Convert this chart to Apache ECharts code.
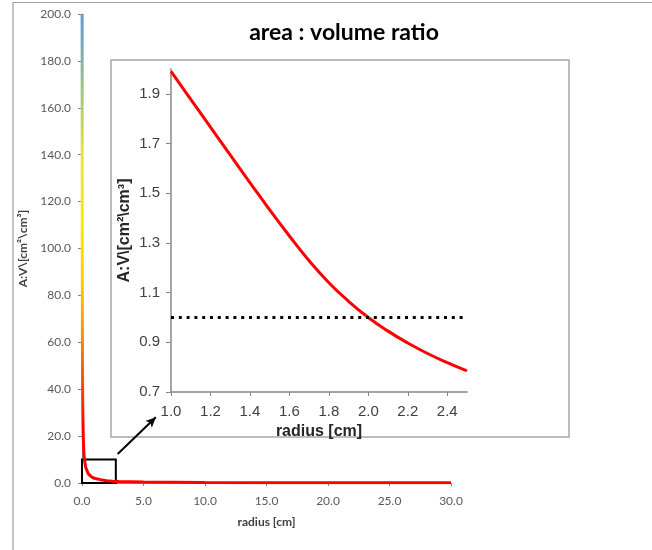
<!DOCTYPE html>
<html>
<head>
<meta charset="utf-8">
<script src="https://cdn.jsdelivr.net/npm/echarts@6/dist/echarts.min.js"></script>
<style>
  html, body { margin: 0; padding: 0; background: #fff; }
  #chart { width: 652px; height: 550px; }
</style>
</head>
<body>
<div id="chart"></div>
<script>
// main curve
const mainRadius = [0.01, 0.02, 0.04, 0.06, 0.1, 0.15, 0.2, 0.3, 0.5, 0.75, 1.0, 1.5, 2.0, 2.5, 3.0, 5.0, 10.0, 15.0, 20.0, 25.0, 30.0];
const mainRatio = [200, 100, 50, 33, 20, 13, 10, 6.7, 4.0, 2.7, 2.0, 1.43, 1.0, 0.79, 0.67, 0.4, 0.2, 0.13, 0.1, 0.08, 0.07];

// zoomed curve
const insetRadius = [1.0, 1.1, 1.2, 1.3, 1.4, 1.5, 1.6, 1.7, 1.8, 1.9, 2.0, 2.1, 2.2, 2.3, 2.4, 2.5];
const insetRatio = [1.99, 1.878, 1.766, 1.654, 1.543, 1.433, 1.328, 1.228, 1.14, 1.065, 1.0, 0.945, 0.897, 0.855, 0.818, 0.785];

const insetXTicks = [1.0, 1.2, 1.4, 1.6, 1.8, 2.0, 2.2, 2.4];
const insetYTicks = [0.7, 0.9, 1.1, 1.3, 1.5, 1.7, 1.9];
const thresholdRatio = 1.0;

// zoom box and arrow in main-axis data units
const zoomBox = [[0, 0], [2.75, 10]];
const arrowFrom = [2.9, 12.4];
const arrowTo = [6.0, 28.0];

const chart = echarts.init(document.getElementById('chart'));

const mainFont = { fontFamily: 'Lato', fontSize: 12, color: '#595959' };
const insetFont = { fontFamily: 'Liberation Sans', fontSize: 15, color: '#404040' };
const fmt1 = (v) => Number(v).toFixed(1);

const mainGradient = new echarts.graphic.LinearGradient(0, 1, 0, 0, [
  { offset: 0, color: '#ff0000' },
  { offset: 0.12, color: '#ff0000' },
  { offset: 0.22, color: '#ff5000' },
  { offset: 0.32, color: '#ff9000' },
  { offset: 0.42, color: '#ffc800' },
  { offset: 0.55, color: '#ffe800' },
  { offset: 0.7, color: '#e6e440' },
  { offset: 0.82, color: '#a8c878' },
  { offset: 0.92, color: '#78aab8' },
  { offset: 1, color: '#5b9bd5' },
]);

chart.setOption({
  animation: false,
  backgroundColor: '#fff',
  title: {
    text: 'area : volume ratio',
    left: 339,
    top: 16,
    textAlign: 'center',
    textStyle: { fontFamily: 'Lato', fontSize: 23, fontWeight: 'bold', color: '#000' },
  },
  graphic: [
    {
      type: 'polyline',
      shape: { points: [[13, 550], [13, 2.5], [652, 2.5]] },
      style: { stroke: '#a0a0a0', fill: null, lineWidth: 1.2 },
      silent: true,
    },
    {
      type: 'rect',
      shape: { x: 111, y: 60, width: 458, height: 377 },
      style: { stroke: '#a6a6a6', fill: null, lineWidth: 1.5 },
      silent: true,
    },
  ],
  grid: [
    { left: 82, top: 14, right: 201, bottom: 67 },
    { left: 171, top: 69, right: 185, bottom: 158 },
  ],
  xAxis: [
    {
      gridIndex: 0,
      type: 'value',
      min: 0,
      max: 30,
      interval: 5,
      name: 'radius [cm]',
      nameLocation: 'middle',
      nameGap: 33,
      nameTextStyle: { fontFamily: 'Lato', fontSize: 12, fontWeight: 'bold', color: '#404040' },
      axisLine: { lineStyle: { color: '#868686' } },
      axisTick: { show: true, length: 3, lineStyle: { color: '#868686' } },
      axisLabel: { ...mainFont, margin: 12, formatter: fmt1 },
      splitLine: { show: false },
    },
    {
      gridIndex: 1,
      type: 'value',
      min: 1.0,
      max: 2.5,
      name: 'radius [cm]',
      nameLocation: 'middle',
      nameGap: 28,
      nameTextStyle: { fontFamily: 'Liberation Sans', fontSize: 16, fontWeight: 'bold', color: '#262626' },
      axisLine: { lineStyle: { color: '#868686', width: 1.5 } },
      axisTick: { show: true, length: 4, customValues: insetXTicks, lineStyle: { color: '#868686' } },
      axisLabel: { ...insetFont, margin: 12, customValues: insetXTicks, formatter: fmt1 },
      splitLine: { show: false },
    },
  ],
  yAxis: [
    {
      gridIndex: 0,
      type: 'value',
      min: 0,
      max: 200,
      interval: 20,
      name: 'A:V\\[cm²\\cm³]',
      nameLocation: 'middle',
      nameGap: 48,
      nameTextStyle: { fontFamily: 'Lato', fontSize: 12, fontWeight: 'bold', color: '#404040' },
      axisLine: { show: true, lineStyle: { color: '#868686' } },
      axisTick: { show: true, length: 4, lineStyle: { color: '#868686' } },
      axisLabel: { ...mainFont, margin: 11, formatter: fmt1 },
      splitLine: { show: false },
    },
    {
      gridIndex: 1,
      type: 'value',
      min: 0.7,
      max: 2.0,
      name: 'A:V\\[cm²\\cm³]',
      nameLocation: 'middle',
      nameGap: 38,
      nameTextStyle: { fontFamily: 'Liberation Sans', fontSize: 16, fontWeight: 'bold', color: '#262626' },
      axisLine: { show: true, lineStyle: { color: '#868686', width: 1.5 } },
      axisTick: { show: true, length: 5, customValues: insetYTicks, lineStyle: { color: '#868686' } },
      axisLabel: { ...insetFont, margin: 11, customValues: insetYTicks, formatter: fmt1 },
      splitLine: { show: false },
    },
  ],
  series: [
    {
      type: 'line',
      xAxisIndex: 0,
      yAxisIndex: 0,
      data: mainRadius.map((r, i) => [r, mainRatio[i]]),
      showSymbol: false,
      smooth: false,
      lineStyle: { width: 3, color: mainGradient },
      markArea: {
        silent: true,
        itemStyle: { color: 'rgba(0,0,0,0)', borderColor: '#000', borderWidth: 2 },
        data: [[{ coord: zoomBox[0] }, { coord: zoomBox[1] }]],
      },
      markLine: {
        silent: true,
        symbol: ['none', 'arrow'],
        symbolSize: [7, 10],
        label: { show: false },
        lineStyle: { color: '#000', width: 2, type: 'solid' },
        data: [[{ coord: arrowFrom }, { coord: arrowTo }]],
      },
    },
    {
      type: 'line',
      xAxisIndex: 1,
      yAxisIndex: 1,
      data: insetRadius.map((r, i) => [r, insetRatio[i]]),
      showSymbol: false,
      smooth: true,
      lineStyle: { width: 3, color: '#ff0000' },
      markLine: {
        silent: true,
        symbol: ['none', 'none'],
        label: { show: false },
        lineStyle: { color: '#000', width: 3, type: [3, 4.8] },
        data: [{ yAxis: thresholdRatio }],
      },
    },
  ],
});
</script>
</body>
</html>
